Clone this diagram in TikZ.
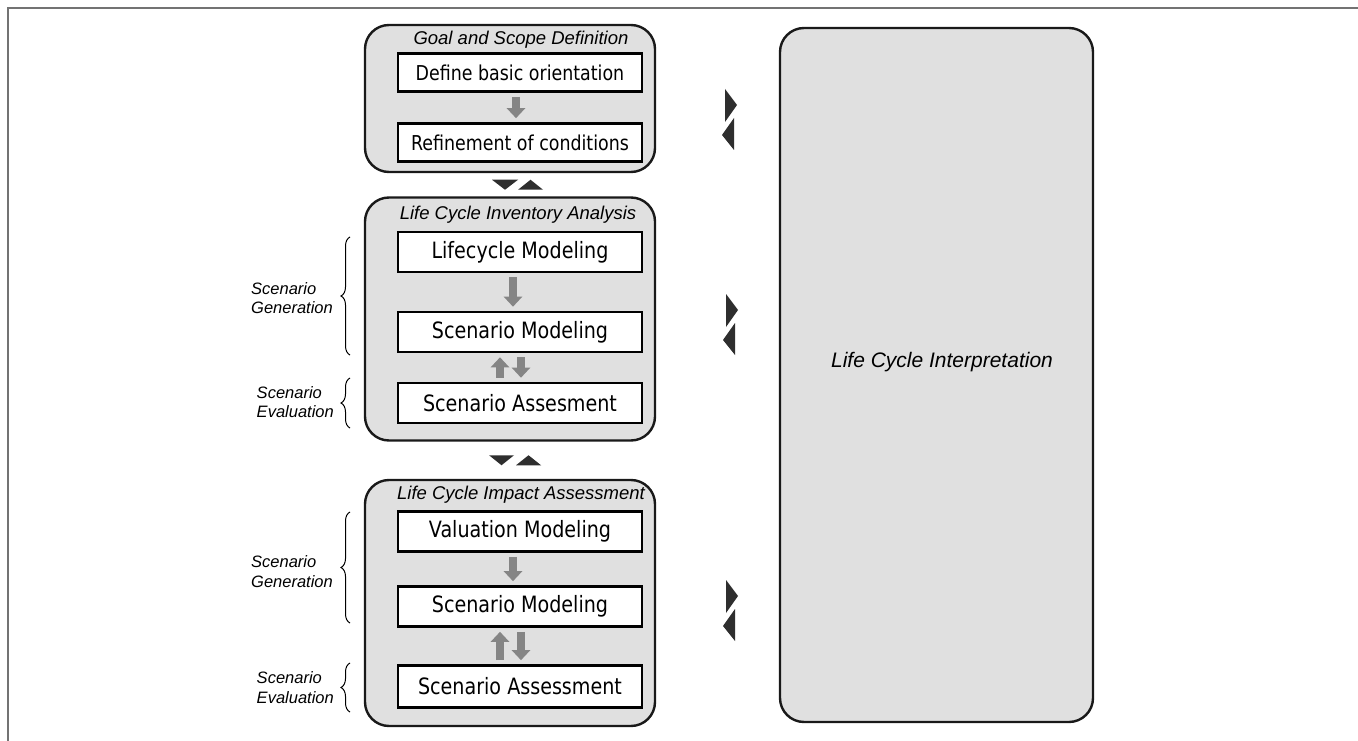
\documentclass[tikz,border=0pt]{standalone}
\usepackage{fontspec}
\setmainfont{Liberation Sans}
\newfontfamily\boxfont[FakeStretch=0.85]{DejaVu Sans}
\usetikzlibrary{calc,decorations.pathreplacing,arrows.meta}
\definecolor{panelfill}{gray}{0.88}
\definecolor{framegray}{gray}{0.45}
\definecolor{arrowgray}{gray}{0.52}
\definecolor{tridark}{gray}{0.18}
\tikzset{
  bigpanel/.style={draw=black!90, line width=2.4pt, fill=panelfill, rounded corners=24pt, inner sep=0pt},
  stepbox/.style={draw=black, line width=2.6pt, fill=white, minimum width=244pt, minimum height=38pt, inner sep=0pt, font=\boxfont\fontsize{22.5}{26}\selectfont},
  smallstep/.style={stepbox, font=\boxfont\fontsize{20.5}{24}\selectfont},
  paneltitle/.style={font=\itshape\fontsize{18.5}{22}\selectfont, inner sep=0pt},
  barrow/.style={draw=arrowgray, line width=8pt, -{Triangle[width=18pt,length=10pt]}, shorten <=4pt, shorten >=4pt},
  phasebrace/.style={decorate, decoration={brace, amplitude=9pt}, line width=1pt},
  bracelabel/.style={font=\itshape\fontsize{16.5}{19.5}\selectfont, align=left, anchor=east, inner sep=0pt},
  tri/.style={fill=tridark}
}
\begin{document}
\begin{tikzpicture}[x=1pt,y=-1pt]
\useasboundingbox (0,0) rectangle (1358,741);
\fill[white] (0,0) rectangle (1358,741);
% outer frame (top and left)
\draw[framegray, line width=2pt] (8,741) -- (8,8) -- (1358,8);

% panels
\node[bigpanel, minimum width=290pt, minimum height=147pt] (goal) at (510,98.5) {};
\node[bigpanel, minimum width=290pt, minimum height=243pt] (lci) at (510,319) {};
\node[bigpanel, minimum width=290pt, minimum height=246pt] (lcia) at (510,603) {};
\node[bigpanel, minimum width=313pt, minimum height=694pt] (interp) at (936.5,375) {};
\node[font=\itshape\fontsize{21}{25}\selectfont, inner sep=0pt] (interplabel) at (942,362) {Life Cycle Interpretation};

% titles
\node[paneltitle] (goaltitle) at (521,40) {Goal and Scope Definition};
\node[paneltitle] (lcititle) at (518,215) {Life Cycle Inventory Analysis};
\node[paneltitle] (lciatitle) at (521,495) {Life Cycle Impact Assessment};

% goal boxes
\node[smallstep] (define) at (520,72.5) {Define basic orientation};
\node[smallstep] (refine) at (520,142.5) {Refinement of conditions};
% LCI boxes
\node[stepbox, minimum height=40pt] (lifecycle) at (520,252) {Lifecycle Modeling};
\node[stepbox, minimum height=40pt] (scenA) at (520,332) {Scenario Modeling};
\node[stepbox, minimum height=40pt] (assessA) at (520,403) {Scenario Assesment};
% LCIA boxes
\node[stepbox, minimum height=40pt] (valuation) at (520,531.5) {Valuation Modeling};
\node[stepbox, minimum height=40pt] (scenB) at (520,606.5) {Scenario Modeling};
\node[stepbox, minimum height=42pt] (assessB) at (520,686.5) {Scenario Assessment};

% block arrows
\draw[barrow] ([xshift=-4pt]define.south) -- ([xshift=-4pt]refine.north);
\draw[barrow] ([xshift=-7pt]lifecycle.south) -- ([xshift=-7pt]scenA.north);
\draw[barrow] ([xshift=-20pt]assessA.north) -- ([xshift=-20pt]scenA.south);
\draw[barrow] ([xshift=1pt]scenA.south) -- ([xshift=1pt]assessA.north);
\draw[barrow] ([xshift=-7pt]valuation.south) -- ([xshift=-7pt]scenB.north);
\draw[barrow] ([xshift=-20pt]assessB.north) -- ([xshift=-20pt]scenB.south);
\draw[barrow] ([xshift=1pt]scenB.south) -- ([xshift=1pt]assessB.north);

% triangles between panels
\coordinate (m1) at ($(goal.south)!0.5!(lci.north)$);
\coordinate (m2) at ($(lci.south)!0.5!(lcia.north)$);
\fill[tri] ($(m1)+(-18,-5)$) -- ($(m1)+(8,-5)$) -- ($(m1)+(-5,5)$) -- cycle;
\fill[tri] ($(m1)+(8,5)$) -- ($(m1)+(33,5)$) -- ($(m1)+(20.5,-5)$) -- cycle;
\fill[tri] ($(m2)+(-21,-5)$) -- ($(m2)+(4,-5)$) -- ($(m2)+(-8.5,5)$) -- cycle;
\fill[tri] ($(m2)+(6,5)$) -- ($(m2)+(31,5)$) -- ($(m2)+(18.5,-5)$) -- cycle;

% triangles toward interpretation
\coordinate (r1) at (730,120);
\coordinate (r2) at (731,325);
\coordinate (r3) at (731,611);
\foreach \r in {r1,r2,r3}{
  \fill[tri] ($(\r)+(-5,-31)$) -- ($(\r)+(7,-15)$) -- ($(\r)+(-5,2)$) -- cycle;
  \fill[tri] ($(\r)+(4,-2)$) -- ($(\r)+(-8,15)$) -- ($(\r)+(4,30)$) -- cycle;
}

% braces and labels
\draw[phasebrace] (350,355) -- (350,237) coordinate[midway, xshift=-11pt] (bA);
\node[bracelabel] (genA) at ($(bA)+(-6,2)$) {Scenario\\Generation};
\draw[phasebrace] (350,428) -- (350,378) coordinate[midway, xshift=-11pt] (bB);
\node[bracelabel] (evalA) at ($(bB)+(-5,-1)$) {Scenario\\Evaluation};
\draw[phasebrace] (350,623) -- (350,512) coordinate[midway, xshift=-11pt] (bC);
\node[bracelabel] (genB) at ($(bC)+(-6,4)$) {Scenario\\Generation};
\draw[phasebrace] (350,712) -- (350,663) coordinate[midway, xshift=-11pt] (bD);
\node[bracelabel] (evalB) at ($(bD)+(-5,0)$) {Scenario\\Evaluation};
\end{tikzpicture}
\end{document}
